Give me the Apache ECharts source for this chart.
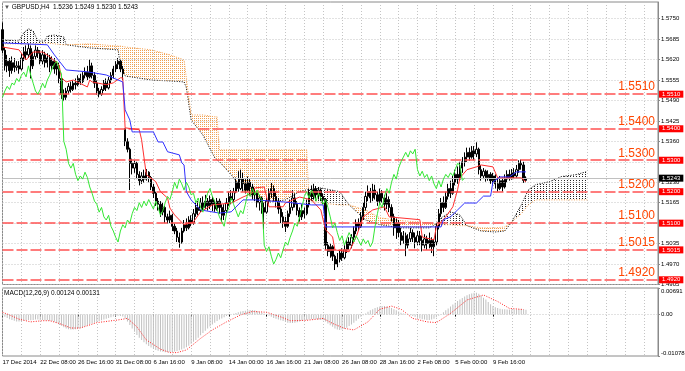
<!DOCTYPE html>
<html><head><meta charset="utf-8">
<script src="https://cdn.jsdelivr.net/npm/echarts@6/dist/echarts.min.js"></script>
<style>html,body{margin:0;padding:0;background:#fff;overflow:hidden}#c{width:685px;height:371px}</style>
</head><body><div id="c"></div>
<script>
// ---------- DATA ----------
const dateLabels = ["17 Dec 2014","22 Dec 08:00","26 Dec 16:00","31 Dec 08:00","6 Jan 16:00","9 Jan 08:00","14 Jan 00:00","16 Jan 16:00","21 Jan 08:00","26 Jan 08:00","28 Jan 16:00","2 Feb 08:00","5 Feb 00:00","9 Feb 16:00"];
const yTicks = [1.4905,1.4970,1.5035,1.5100,1.5165,1.5230,1.5295,1.5360,1.5425,1.5490,1.5555,1.5620,1.5685,1.5750];
const levels = [1.5510,1.5400,1.5300,1.5200,1.5100,1.5015,1.4920];
const macdTicks = [-0.01078, 0, 0.00691];
const macdNow = [0.00124, 0.00131];

const opens = [1.5715,1.5650,1.5600,1.5615,1.5585,1.5610,1.5595,1.5600,1.5590,1.5625,1.5645,1.5635,1.5655,1.5600,1.5630,1.5650,1.5640,1.5615,1.5635,1.5610,
1.5625,1.5600,1.5615,1.5590,1.5600,1.5560,1.5510,1.5500,1.5520,1.5535,1.5525,1.5545,1.5540,1.5560,1.5550,1.5570,1.5580,1.5565,1.5600,1.5570,
1.5545,1.5520,1.5510,1.5525,1.5545,1.5530,1.5555,1.5570,1.5590,1.5605,1.5615,1.5590,1.5400,1.5360,1.5335,1.5290,1.5275,1.5290,1.5255,1.5235,
1.5250,1.5240,1.5262,1.5245,1.5215,1.5195,1.5170,1.5160,1.5135,1.5150,1.5120,1.5110,1.5125,1.5090,1.5075,1.5055,1.5040,1.5075,1.5095,1.5085,
1.5110,1.5100,1.5130,1.5150,1.5140,1.5165,1.5150,1.5170,1.5155,1.5175,1.5160,1.5145,1.5170,1.5150,1.5125,1.5140,1.5165,1.5185,1.5175,1.5200,
1.5230,1.5210,1.5240,1.5225,1.5205,1.5230,1.5215,1.5190,1.5195,1.5165,1.5180,1.5150,1.5135,1.5170,1.5195,1.5210,1.5185,1.5170,1.5145,1.5120,
1.5105,1.5090,1.5130,1.5150,1.5180,1.5160,1.5140,1.5120,1.5140,1.5130,1.5160,1.5195,1.5185,1.5210,1.5190,1.5205,1.5185,1.5175,1.5030,1.5010,
1.5025,1.4995,1.4970,1.4985,1.5005,1.4990,1.5015,1.5040,1.5030,1.5055,1.5075,1.5100,1.5090,1.5120,1.5150,1.5185,1.5200,1.5180,1.5205,1.5190,
1.5170,1.5195,1.5180,1.5160,1.5175,1.5150,1.5120,1.5085,1.5100,1.5070,1.5045,1.5060,1.5030,1.5050,1.5070,1.5055,1.5040,1.5060,1.5045,1.5030,
1.5050,1.5035,1.5045,1.5025,1.5040,1.5090,1.5130,1.5165,1.5150,1.5185,1.5210,1.5195,1.5230,1.5255,1.5240,1.5275,1.5295,1.5310,1.5325,1.5310,
1.5330,1.5320,1.5335,1.5270,1.5250,1.5265,1.5245,1.5255,1.5235,1.5250,1.5225,1.5210,1.5235,1.5215,1.5240,1.5255,1.5245,1.5260,1.5250,1.5270,
1.5290,1.5285,1.5236];
const closes = [1.5650,1.5600,1.5615,1.5585,1.5610,1.5595,1.5600,1.5590,1.5625,1.5645,1.5635,1.5655,1.5600,1.5630,1.5650,1.5640,1.5615,1.5635,1.5610,1.5625,
1.5600,1.5615,1.5590,1.5600,1.5560,1.5510,1.5500,1.5520,1.5535,1.5525,1.5545,1.5540,1.5560,1.5550,1.5570,1.5580,1.5565,1.5600,1.5570,1.5545,
1.5520,1.5510,1.5525,1.5545,1.5530,1.5555,1.5570,1.5590,1.5605,1.5615,1.5590,1.5575,1.5360,1.5335,1.5290,1.5275,1.5290,1.5255,1.5235,1.5250,
1.5240,1.5262,1.5245,1.5215,1.5195,1.5170,1.5160,1.5135,1.5150,1.5120,1.5110,1.5125,1.5090,1.5075,1.5055,1.5040,1.5075,1.5095,1.5085,1.5110,
1.5100,1.5130,1.5150,1.5140,1.5165,1.5150,1.5170,1.5155,1.5175,1.5160,1.5145,1.5170,1.5150,1.5125,1.5140,1.5165,1.5185,1.5175,1.5200,1.5230,
1.5210,1.5240,1.5225,1.5205,1.5230,1.5215,1.5190,1.5195,1.5165,1.5180,1.5150,1.5135,1.5170,1.5195,1.5210,1.5185,1.5170,1.5145,1.5120,1.5105,
1.5090,1.5130,1.5150,1.5180,1.5160,1.5140,1.5120,1.5140,1.5130,1.5160,1.5195,1.5185,1.5210,1.5190,1.5205,1.5185,1.5175,1.5030,1.5010,1.5025,
1.4995,1.4970,1.4985,1.5005,1.4990,1.5015,1.5040,1.5030,1.5055,1.5075,1.5100,1.5090,1.5120,1.5150,1.5185,1.5200,1.5180,1.5205,1.5190,1.5170,
1.5195,1.5180,1.5160,1.5175,1.5150,1.5120,1.5085,1.5100,1.5070,1.5045,1.5060,1.5030,1.5050,1.5070,1.5055,1.5040,1.5060,1.5045,1.5030,1.5050,
1.5035,1.5045,1.5025,1.5040,1.5090,1.5130,1.5165,1.5150,1.5185,1.5210,1.5195,1.5230,1.5255,1.5240,1.5275,1.5295,1.5310,1.5325,1.5310,1.5330,
1.5320,1.5335,1.5270,1.5250,1.5265,1.5245,1.5255,1.5235,1.5250,1.5225,1.5210,1.5235,1.5215,1.5240,1.5255,1.5245,1.5260,1.5250,1.5270,1.5290,
1.5285,1.5236,1.5243];
const lows = [1.5640,1.5585,1.5580,1.5565,1.5575,1.5580,1.5585,1.5575,1.5585,1.5615,1.5620,1.5625,1.5560,1.5590,1.5620,1.5625,1.5605,1.5605,1.5595,1.5595,
1.5580,1.5585,1.5575,1.5570,1.5545,1.5495,1.5488,1.5492,1.5510,1.5515,1.5520,1.5525,1.5535,1.5540,1.5545,1.5560,1.5555,1.5560,1.5560,1.5530,
1.5508,1.5500,1.5505,1.5520,1.5520,1.5525,1.5545,1.5560,1.5580,1.5590,1.5580,1.5555,1.5345,1.5325,1.5205,1.5255,1.5260,1.5240,1.5220,1.5225,
1.5228,1.5235,1.5230,1.5205,1.5180,1.5155,1.5140,1.5120,1.5125,1.5100,1.5098,1.5100,1.5075,1.5065,1.5040,1.5022,1.5035,1.5070,1.5075,1.5080,
1.5090,1.5095,1.5120,1.5125,1.5135,1.5140,1.5145,1.5140,1.5145,1.5138,1.5136,1.5140,1.5130,1.5105,1.5110,1.5130,1.5155,1.5160,1.5165,1.5195,
1.5200,1.5205,1.5200,1.5195,1.5200,1.5190,1.5175,1.5170,1.5150,1.5140,1.5130,1.5080,1.5130,1.5160,1.5180,1.5170,1.5150,1.5130,1.5100,1.5085,
1.5072,1.5085,1.5120,1.5140,1.5150,1.5125,1.5105,1.5110,1.5115,1.5125,1.5150,1.5170,1.5175,1.5180,1.5175,1.5170,1.5160,1.5015,1.4995,1.4990,
1.4980,1.4951,1.4960,1.4975,1.4980,1.4985,1.5005,1.5015,1.5020,1.5045,1.5065,1.5075,1.5085,1.5110,1.5140,1.5170,1.5165,1.5170,1.5175,1.5155,
1.5160,1.5165,1.5140,1.5145,1.5135,1.5105,1.5060,1.5050,1.5055,1.5030,1.5035,1.4995,1.5020,1.5040,1.5040,1.5020,1.5030,1.5030,1.5010,1.5020,
1.5015,1.5020,1.5005,1.4995,1.5030,1.5080,1.5120,1.5135,1.5145,1.5175,1.5180,1.5190,1.5220,1.5225,1.5235,1.5260,1.5280,1.5295,1.5298,1.5305,
1.5300,1.5310,1.5255,1.5235,1.5240,1.5232,1.5235,1.5225,1.5222,1.5210,1.5200,1.5205,1.5200,1.5210,1.5230,1.5235,1.5238,1.5240,1.5245,1.5260,
1.5270,1.5228,1.5230];
const highs = [1.5738,1.5660,1.5635,1.5625,1.5630,1.5625,1.5615,1.5615,1.5640,1.5660,1.5665,1.5670,1.5665,1.5645,1.5665,1.5660,1.5650,1.5650,1.5645,1.5640,
1.5635,1.5630,1.5625,1.5615,1.5610,1.5565,1.5525,1.5530,1.5545,1.5550,1.5555,1.5560,1.5570,1.5575,1.5580,1.5595,1.5600,1.5620,1.5610,1.5580,
1.5555,1.5530,1.5535,1.5555,1.5560,1.5565,1.5580,1.5600,1.5615,1.5625,1.5620,1.5600,1.5402,1.5370,1.5340,1.5305,1.5300,1.5295,1.5265,1.5262,
1.5270,1.5272,1.5265,1.5250,1.5225,1.5200,1.5180,1.5170,1.5165,1.5155,1.5130,1.5140,1.5130,1.5100,1.5085,1.5070,1.5085,1.5110,1.5115,1.5122,
1.5125,1.5145,1.5165,1.5170,1.5180,1.5185,1.5190,1.5180,1.5188,1.5185,1.5172,1.5180,1.5178,1.5160,1.5160,1.5180,1.5200,1.5205,1.5212,1.5245,
1.5265,1.5270,1.5260,1.5240,1.5248,1.5240,1.5225,1.5210,1.5200,1.5190,1.5185,1.5165,1.5180,1.5210,1.5228,1.5220,1.5200,1.5180,1.5155,1.5135,
1.5120,1.5140,1.5175,1.5205,1.5195,1.5170,1.5150,1.5160,1.5150,1.5175,1.5210,1.5220,1.5225,1.5218,1.5215,1.5210,1.5195,1.5180,1.5040,1.5035,
1.5030,1.5000,1.5005,1.5015,1.5020,1.5030,1.5050,1.5055,1.5065,1.5090,1.5112,1.5115,1.5135,1.5165,1.5200,1.5220,1.5212,1.5225,1.5222,1.5200,
1.5210,1.5205,1.5190,1.5195,1.5185,1.5160,1.5130,1.5115,1.5110,1.5085,1.5075,1.5070,1.5065,1.5085,1.5080,1.5070,1.5075,1.5075,1.5060,1.5065,
1.5060,1.5070,1.5055,1.5050,1.5100,1.5145,1.5180,1.5185,1.5200,1.5225,1.5235,1.5250,1.5270,1.5280,1.5295,1.5310,1.5325,1.5340,1.5340,1.5345,
1.5345,1.5357,1.5340,1.5285,1.5275,1.5270,1.5268,1.5262,1.5260,1.5255,1.5240,1.5250,1.5245,1.5255,1.5268,1.5270,1.5272,1.5275,1.5285,1.5300,
1.5302,1.5295,1.5249];

// Ichimoku lines: [bar index, price] vertices
const tenkan = [[0,1.5660],[7,1.5651],[10,1.5619],[13,1.5644],[17,1.5644],[20,1.5629],[24,1.5603],[25,1.5562],[27,1.5549],[30,1.5555],[36,1.5533],[37,1.5555],[38,1.5549],[44,1.5540],[47,1.5546],[50,1.5562],[51,1.5562],[52,1.5403],[58,1.5397],[59,1.5365],[61,1.5254],[65,1.5232],[67,1.5200],[70,1.5180],[71,1.5148],[73,1.5126],[77,1.5095],[81,1.5104],[84,1.5136],[89,1.5158],[97,1.5164],[102,1.5183],[106,1.5196],[107,1.5212],[111,1.5215],[113,1.5152],[119,1.5152],[120,1.5164],[126,1.5183],[131,1.5174],[135,1.5142],[137,1.5079],[140,1.5056],[141,1.5015],[147,1.5009],[150,1.5056],[153,1.5120],[157,1.5142],[162,1.5152],[164,1.5120],[177,1.5111],[178,1.5056],[183,1.5047],[184,1.5089],[188,1.5120],[191,1.5152],[193,1.5206],[194,1.5244],[197,1.5270],[201,1.5279],[203,1.5285],[208,1.5279],[210,1.5244],[220,1.5244],[222,1.5231]];
const kijun = [[0,1.5673],[19,1.5667],[22,1.5635],[27,1.5587],[36,1.5581],[41,1.5575],[44,1.5571],[49,1.5555],[51,1.5549],[52,1.5460],[54,1.5428],[55,1.5390],[64,1.5390],[66,1.5358],[68,1.5358],[70,1.5327],[75,1.5317],[76,1.5292],[77,1.5285],[78,1.5200],[80,1.5174],[84,1.5142],[92,1.5132],[97,1.5136],[102,1.5174],[107,1.5174],[120,1.5167],[131,1.5158],[136,1.5158],[137,1.5088],[186,1.5088],[187,1.5111],[190,1.5120],[193,1.5142],[196,1.5164],[201,1.5164],[204,1.5186],[207,1.5186],[208,1.5231],[211,1.5247],[215,1.5247],[218,1.5263],[222,1.5263]];
const chikouShift = 26;
const cloudX = [0,7,9,11,13,15,18,19,22,26,27,37,49,50,52,63,71,77,78,80,85,90,91,92,97,103,111,120,126,129,130,135,143,147,154,160,169,181,184,186,190,194,197,203,209,213,216,220,223,226,232,237,243,248];
const spanA = [1.5683,1.5679,1.5705,1.5718,1.5711,1.5679,1.5679,1.5695,1.5698,1.5692,1.5667,1.5657,1.5651,1.5603,1.5568,1.5555,1.5552,1.5549,1.5530,1.5428,1.5380,1.5308,1.5300,1.5295,1.5254,1.5196,1.5164,1.5174,1.5200,1.5206,1.5206,1.5212,1.5200,1.5158,1.5110,1.5095,1.5085,1.5085,1.5098,1.5117,1.5136,1.5126,1.5092,1.5075,1.5072,1.5075,1.5104,1.5158,1.5206,1.5222,1.5232,1.5248,1.5254,1.5264];
const spanB = [1.5670,1.5670,1.5670,1.5670,1.5670,1.5670,1.5673,1.5673,1.5670,1.5667,1.5667,1.5670,1.5663,1.5663,1.5660,1.5651,1.5635,1.5619,1.5560,1.5444,1.5444,1.5438,1.5438,1.5333,1.5333,1.5333,1.5333,1.5333,1.5333,1.5333,1.5174,1.5164,1.5158,1.5158,1.5142,1.5117,1.5108,1.5101,1.5098,1.5095,1.5095,1.5092,1.5092,1.5085,1.5085,1.5088,1.5104,1.5130,1.5158,1.5174,1.5174,1.5174,1.5174,1.5174];

// MACD main (histogram, one per bar) and signal vertices
const macdMain = [-0.0003,-0.0006,-0.0009,-0.0012,-0.0014,-0.0016,-0.0018,-0.0018,
-0.0017,-0.0016,-0.0015,-0.0014,-0.0015,-0.0014,-0.0013,-0.0013,-0.0014,-0.0014,-0.0015,-0.0015,-0.0016,-0.0017,
-0.0019,-0.0022,-0.0025,-0.0029,-0.0033,-0.0036,
-0.0038,-0.0039,-0.0039,-0.0038,-0.0037,-0.0035,
-0.0033,-0.0030,-0.0028,-0.0025,-0.0023,-0.0021,
-0.0019,-0.0017,-0.0015,-0.0013,-0.0011,-0.0009,-0.0007,-0.0005,-0.0004,
-0.0003,-0.0004,-0.0005,-0.0010,
-0.0018,-0.0027,-0.0036,-0.0045,-0.0053,-0.0060,-0.0066,-0.0072,
-0.0077,-0.0082,-0.0086,-0.0089,-0.0092,-0.0094,-0.0096,
-0.0097,-0.0098,-0.0098,-0.0098,-0.0097,-0.0096,
-0.0095,-0.0093,-0.0091,-0.0088,-0.0085,
-0.0081,-0.0076,-0.0071,-0.0066,-0.0060,-0.0054,
-0.0048,-0.0042,-0.0036,-0.0031,-0.0026,-0.0021,-0.0017,
-0.0013,-0.0010,-0.0007,-0.0004,-0.0002,0.0000,0.0002,
0.0004,0.0006,0.0008,0.0009,0.0010,0.0011,0.0012,0.0012,0.0011,0.0009,
0.0007,0.0005,0.0002,0.0000,
-0.0003,-0.0006,-0.0009,-0.0011,-0.0013,-0.0015,-0.0017,
-0.0019,-0.0021,-0.0022,-0.0022,-0.0021,-0.0020,-0.0018,
-0.0016,-0.0015,-0.0014,-0.0013,-0.0012,-0.0012,-0.0012,-0.0013,
-0.0014,-0.0015,-0.0018,
-0.0023,-0.0028,-0.0032,-0.0036,-0.0039,-0.0040,-0.0039,-0.0037,
-0.0034,-0.0030,-0.0026,-0.0021,-0.0016,-0.0011,-0.0006,
-0.0002,0.0003,0.0007,0.0011,0.0014,
0.0017,0.0019,0.0021,0.0022,0.0022,0.0021,0.0019,0.0017,0.0014,
0.0011,0.0008,0.0005,0.0003,0.0001,0.0000,
-0.0002,-0.0004,-0.0006,-0.0008,-0.0010,-0.0012,-0.0013,-0.0014,-0.0014,-0.0013,-0.0011,-0.0007,-0.0003,
0.0001,0.0006,0.0011,0.0016,0.0021,0.0026,0.0031,
0.0035,0.0039,0.0043,0.0047,0.0050,0.0053,0.0055,0.0057,
0.0057,0.0054,0.0049,0.0044,0.0039,0.0033,0.0027,0.0022,
0.0019,0.0017,0.0015,0.0014,0.0014,0.0013,0.0013,
0.0013,0.0013,0.0013,0.0014,0.0014,0.0013,0.00124];
const macdSignal = [[0,0.0006],[3,-0.0001],[7,-0.0012],[12,-0.0019],[17,-0.0016],[20,-0.0016],[24,-0.0023],[29,-0.0035],[33,-0.0035],[40,-0.0021],[49,-0.0014],[53,-0.0010],[57,-0.0032],[61,-0.0066],[67,-0.0090],[71,-0.0099],[74,-0.0099],[78,-0.0092],[84,-0.0062],[89,-0.0040],[95,-0.0019],[101,-0.0001],[106,0.0008],[112,0.0006],[118,-0.0006],[122,-0.0016],[129,-0.0015],[136,-0.0010],[140,-0.0023],[145,-0.0036],[149,-0.0040],[155,-0.0019],[160,0.0014],[165,0.0022],[169,0.0014],[174,-0.0010],[180,-0.0019],[184,-0.0021],[190,0.0003],[197,0.0038],[204,0.0051],[210,0.0034],[215,0.0016],[221,0.00131]];

// ---------- CHART ----------
const FONT = 'Liberation Sans, Arial, sans-serif';
const N = 279;
const cats = Array.from({length: N}, (_, i) => String(i));
const L = closes.length - 1;
const candleData = closes.map((c, i) => [opens[i], c, lows[i], highs[i]]);
const chikou = closes.map((c, i) => [i - chikouShift, c]).filter(p => p[0] >= 0);

function dotPattern(color, w, h, pts) {
  const cv = document.createElement('canvas');
  cv.width = w; cv.height = h;
  const g = cv.getContext('2d');
  g.fillStyle = color;
  pts.forEach(p => g.fillRect(p[0], p[1], 1, 1));
  return {image: cv, repeat: 'repeat'};
}
const patOrange = dotPattern('#f0a050', 2, 2, [[0,0]]);
const patBlack = dotPattern('#222222', 3, 2, [[0,0]]);

const every16 = (i) => i % 16 === 0 && i / 16 < dateLabels.length;
const gridLine = {type: [1, 2], color: '#c4c4c4', width: 1};

const chart = echarts.init(document.getElementById('c'), null, {renderer: 'canvas'});
chart.setOption({
  animation: false,
  backgroundColor: '#ffffff',
  textStyle: {fontFamily: FONT},
  title: [
    {text: '{t|▼} GBPUSD,H4  ' + [opens[L], highs[L], lows[L], closes[L]].map(v => v.toFixed(4)).join(' '),
     left: 4, top: 4, padding: 0,
     textStyle: {fontSize: 6.5, fontWeight: 'normal', color: '#000', fontFamily: FONT,
       rich: {t: {fontSize: 6, color: '#555'}}}},
    {text: 'MACD(12,26,9) ' + macdNow.map(v => v.toFixed(5)).join(' '),
     left: 4, top: 290, padding: 0,
     textStyle: {fontSize: 6.5, fontWeight: 'normal', color: '#000', fontFamily: FONT}}
  ],
  grid: [
    {left: 2.5, right: 27, top: 2, height: 282.5, show: true, borderColor: '#8a8a8a', borderWidth: 1, containLabel: false, outerBoundsMode: 'none'},
    {left: 2.5, right: 27, top: 288, height: 68, show: true, borderColor: '#8a8a8a', borderWidth: 1, containLabel: false, outerBoundsMode: 'none'}
  ],
  xAxis: [
    {type: 'category', gridIndex: 0, data: cats, boundaryGap: false,
     axisLine: {show: false}, axisTick: {show: false}, axisLabel: {show: false},
     splitLine: {show: true, interval: (i) => i % 8 === 0, lineStyle: gridLine}},
    {type: 'category', gridIndex: 1, data: cats, boundaryGap: false,
     axisLine: {show: false},
     axisTick: {show: true, interval: every16, length: 2, lineStyle: {color: '#000'}},
     axisLabel: {show: true, interval: every16, formatter: (v, idx) => dateLabels[idx / 16] || '',
       fontSize: 6, color: '#000', align: 'left', margin: 3, hideOverlap: false, fontFamily: FONT},
     splitLine: {show: true, interval: (i) => i % 8 === 0, lineStyle: gridLine}}
  ],
  yAxis: [
    {type: 'value', gridIndex: 0, position: 'right', min: 1.4905, max: 1.5803, scale: true,
     axisLine: {show: true, lineStyle: {color: '#8a8a8a'}},
     axisTick: {show: true, customValues: yTicks, length: 2, lineStyle: {color: '#8a8a8a'}},
     axisLabel: {customValues: yTicks, formatter: v => v.toFixed(4), fontSize: 6, color: '#000', margin: 3, fontFamily: FONT},
     splitLine: {show: false}},
    {type: 'value', gridIndex: 1, position: 'right', min: macdTicks[0], max: macdTicks[2],
     axisLine: {show: true, lineStyle: {color: '#8a8a8a'}},
     axisTick: {show: true, customValues: macdTicks, length: 2, lineStyle: {color: '#8a8a8a'}},
     axisLabel: {customValues: macdTicks, formatter: v => v === 0 ? '0.00' : v.toFixed(5), fontSize: 6, color: '#000', margin: 3,
       verticalAlignMaxLabel: 'top', verticalAlignMinLabel: 'bottom', fontFamily: FONT},
     splitLine: {show: false}}
  ],
  series: [
    // horizontal dotted grid at the price ticks
    {type: 'line', data: [], xAxisIndex: 0, yAxisIndex: 0, z: 0, silent: true,
     markLine: {silent: true, precision: 5, symbol: ['none', 'none'], label: {show: false}, lineStyle: gridLine,
       data: yTicks.map(v => ({yAxis: v}))}},
    // Ichimoku cloud (hatched)
    {type: 'custom', xAxisIndex: 0, yAxisIndex: 0, z: 1, silent: true,
     data: cloudX.slice(0, -1).map((x, k) => [x, spanA[k], k]),
     encode: {x: 0, y: 1},
     renderItem: (params, api) => {
       const k = api.value(2);
       const a0 = api.coord([cloudX[k], spanA[k]]), a1 = api.coord([cloudX[k + 1], spanA[k + 1]]);
       const b0 = api.coord([cloudX[k], spanB[k]]), b1 = api.coord([cloudX[k + 1], spanB[k + 1]]);
       const aUp = (spanA[k] + spanA[k + 1]) > (spanB[k] + spanB[k + 1]);
       return {type: 'polygon', shape: {points: [a0, a1, b1, b0]}, style: {fill: aUp ? patBlack : patOrange, stroke: null}};
     }},
    {type: 'line', name: 'Span A', xAxisIndex: 0, yAxisIndex: 0, z: 2, symbol: 'none', silent: true,
     data: cloudX.map((x, k) => [x, spanA[k]]), lineStyle: {color: '#000', width: 1, type: [1, 1.5]}},
    {type: 'line', name: 'Span B', xAxisIndex: 0, yAxisIndex: 0, z: 2, symbol: 'none', silent: true,
     data: cloudX.map((x, k) => [x, spanB[k]]), lineStyle: {color: '#f4a050', width: 1, type: [1, 1.5]}},
    // red dashed levels with big labels
    {type: 'line', data: [], xAxisIndex: 0, yAxisIndex: 0, z: 3, silent: true,
     markLine: {silent: true, precision: 4, symbol: ['none', 'none'],
       lineStyle: {type: [11, 3], color: '#ff5252', width: 1.5},
       label: {show: true, position: 'insideEndTop', distance: [3, 1], formatter: p => Number(p.value).toFixed(4),
         color: '#ff4500', fontSize: 12, fontFamily: FONT},
       data: levels.map(v => ({yAxis: v}))}},
    // current bid line
    {type: 'line', data: [], xAxisIndex: 0, yAxisIndex: 0, z: 3, silent: true,
     markLine: {silent: true, precision: 4, symbol: ['none', 'none'],
       lineStyle: {type: 'solid', color: '#c0c0c0', width: 1},
       label: {show: true, position: 'end', distance: 1, formatter: p => Number(p.value).toFixed(4),
         color: '#fff', backgroundColor: '#000', padding: [1, 3, 0, 3], fontSize: 6, fontFamily: FONT},
       data: [{yAxis: closes[L]}]}},
    // candles
    {type: 'candlestick', xAxisIndex: 0, yAxisIndex: 0, z: 4, silent: true, barWidth: 1.8,
     data: candleData,
     itemStyle: {color: '#ffffff', color0: '#000000', borderColor: '#000000', borderColor0: '#000000', borderWidth: 1}},
    // Tenkan / Kijun / Chikou
    {type: 'line', name: 'Tenkan', xAxisIndex: 0, yAxisIndex: 0, z: 5, symbol: 'none', silent: true,
     data: tenkan, lineStyle: {color: '#ff3030', width: 1}},
    {type: 'line', name: 'Kijun', xAxisIndex: 0, yAxisIndex: 0, z: 5, symbol: 'none', silent: true,
     data: kijun, lineStyle: {color: '#3030ff', width: 1}},
    {type: 'line', name: 'Chikou', xAxisIndex: 0, yAxisIndex: 0, z: 5, symbol: 'none', silent: true,
     data: chikou, lineStyle: {color: '#33e633', width: 1}},
    // red level boxes on the price scale
    {type: 'line', data: [], xAxisIndex: 0, yAxisIndex: 0, z: 6, silent: true,
     markLine: {silent: true, precision: 4, symbol: ['none', 'none'], lineStyle: {width: 0, color: 'rgba(0,0,0,0)'},
       label: {show: true, position: 'end', distance: 1, formatter: p => Number(p.value).toFixed(4),
         color: '#fff', backgroundColor: '#ff0000', padding: [1, 3, 0, 3], fontSize: 6, fontFamily: FONT},
       data: levels.map(v => ({yAxis: v}))}},
    // MACD
    {type: 'bar', xAxisIndex: 1, yAxisIndex: 1, z: 2, silent: true, barWidth: 1,
     data: macdMain, itemStyle: {color: '#c0c0c0'},
     markLine: {silent: true, precision: 5, symbol: ['none', 'none'], label: {show: false}, lineStyle: gridLine,
       data: [{yAxis: 0}]}},
    {type: 'line', xAxisIndex: 1, yAxisIndex: 1, z: 3, symbol: 'none', silent: true,
     data: macdSignal, lineStyle: {color: '#ff2020', width: 1, type: [1, 1.5]}}
  ]
});
</script></body></html>
